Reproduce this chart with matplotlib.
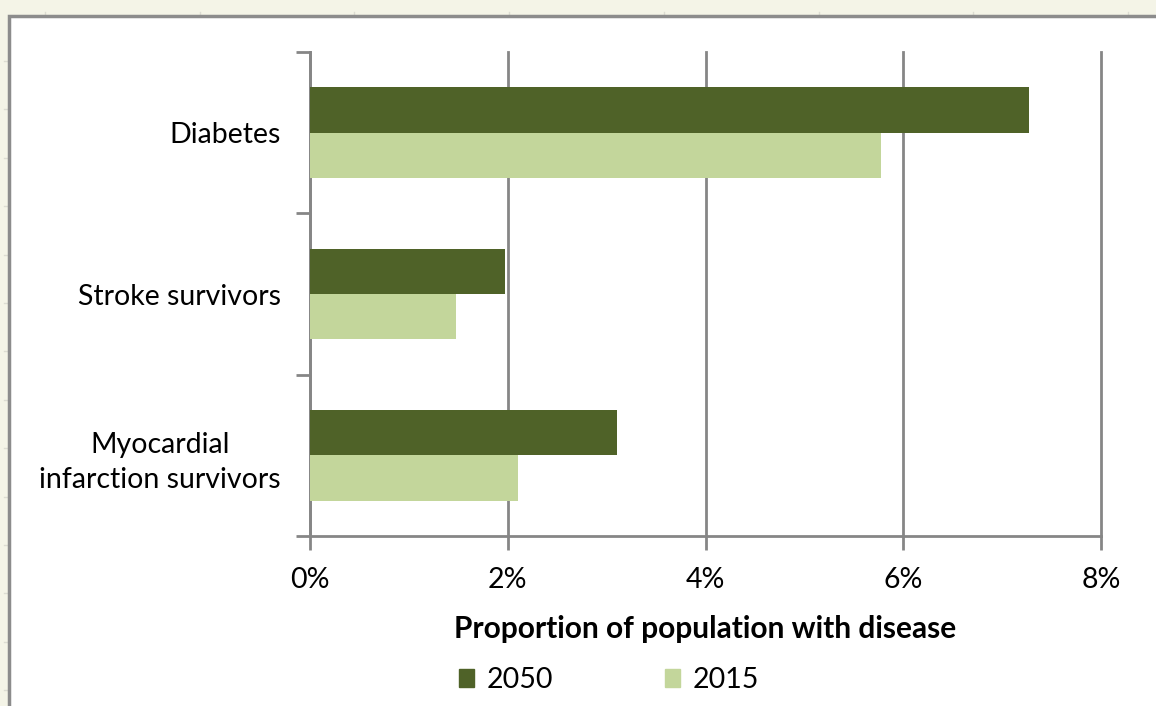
#!/usr/bin/env python3
"""
Projected proportion of population with disease, 2015 vs 2050
"""

import matplotlib
matplotlib.use("Agg")
import matplotlib.pyplot as plt
from matplotlib.patches import Rectangle, Patch
from matplotlib.lines import Line2D
from matplotlib.ticker import FuncFormatter
import numpy as np

# data (top to bottom)
categories = ["Diabetes", "Stroke survivors", "Myocardial\ninfarction survivors"]
values_2050 = [7.27, 1.97, 3.10]
values_2015 = [5.78, 1.48, 2.10]
series_labels = ["2050", "2015"]
x_ticks = [0, 2, 4, 6, 8]

COL_2050 = "#4f6228"
COL_2015 = "#c3d69b"
AXIS_GREY = "#868686"
BG = "#f4f4e7"
FS = 20.5

plt.rcParams["font.family"] = ["Lato", "DejaVu Sans"]

W, H = 1156, 706
fig = plt.figure(figsize=(W / 100, H / 100), dpi=100)
fig.patch.set_facecolor(BG)

# faint spreadsheet cell marks around the embedded chart
for cx in np.arange(45, W, 154.7):
    fig.lines.append(Line2D([cx / W, cx / W], [1 - 12 / H, 1 - 16 / H],
                            transform=fig.transFigure, color="#dcdcd2", lw=1, zorder=-6))
for cy in np.arange(61, H, 48.4):
    fig.lines.append(Line2D([4 / W, 8 / W], [1 - cy / H, 1 - cy / H],
                            transform=fig.transFigure, color="#dcdcd2", lw=1, zorder=-6))

# white chart frame
frame = Rectangle((9 / W, -0.05), 1.2, (H - 16) / H + 0.05,
                  transform=fig.transFigure, facecolor="white",
                  edgecolor="#8c8c8c", linewidth=2.5, zorder=-5)
fig.patches.append(frame)

ax = fig.add_axes([310 / W, (H - 536) / H, 791 / W, 484 / H])
ax.set_facecolor("none")

y = np.arange(len(categories))
h = 0.28
ax.barh(y - h / 2, values_2050, height=h, color=COL_2050, label=series_labels[0], zorder=3)
ax.barh(y + h / 2, values_2015, height=h, color=COL_2015, label=series_labels[1], zorder=3)

ax.set_xlim(0, 8)
ax.set_ylim(len(categories) - 0.5, -0.5)
ax.set_xticks(x_ticks)
ax.xaxis.set_major_formatter(FuncFormatter(lambda v, p: f"{v:.0f}%"))
ax.grid(axis="x", color=AXIS_GREY, linewidth=2, zorder=1)
for gl in ax.get_xgridlines():
    gl.set_clip_on(False)

# category labels centred on each group, boundary ticks on the axis
ax.set_yticks(np.arange(len(categories) + 1) - 0.5)
ax.set_yticklabels([])
ax.set_yticks(y, minor=True)
ax.set_yticklabels(categories, minor=True, fontsize=FS, ha="right",
                   multialignment="center", linespacing=1.42)
ax.tick_params(axis="y", which="minor", length=0, pad=21)
ax.tick_params(axis="y", which="major", length=10, width=2, color=AXIS_GREY)
ax.tick_params(axis="x", length=10, width=2, color=AXIS_GREY, labelsize=FS, pad=12)

for side in ["top", "right"]:
    ax.spines[side].set_visible(False)
for side in ["left", "bottom"]:
    ax.spines[side].set_color(AXIS_GREY)
    ax.spines[side].set_linewidth(2)

ax.set_xlabel("Proportion of population with disease", fontsize=21.5,
              fontweight="bold", labelpad=16)

handles = [Patch(color=COL_2050, label=series_labels[0]),
           Patch(color=COL_2015, label=series_labels[1])]
fig.legend(handles=handles, loc="center", bbox_to_anchor=(609 / W, 1 - 680 / H),
           ncol=2, frameon=False, fontsize=FS, handlelength=0.55, handleheight=0.55,
           handletextpad=0.45, columnspacing=3.9)

fig.savefig("out.png", dpi=100, facecolor=fig.get_facecolor())
